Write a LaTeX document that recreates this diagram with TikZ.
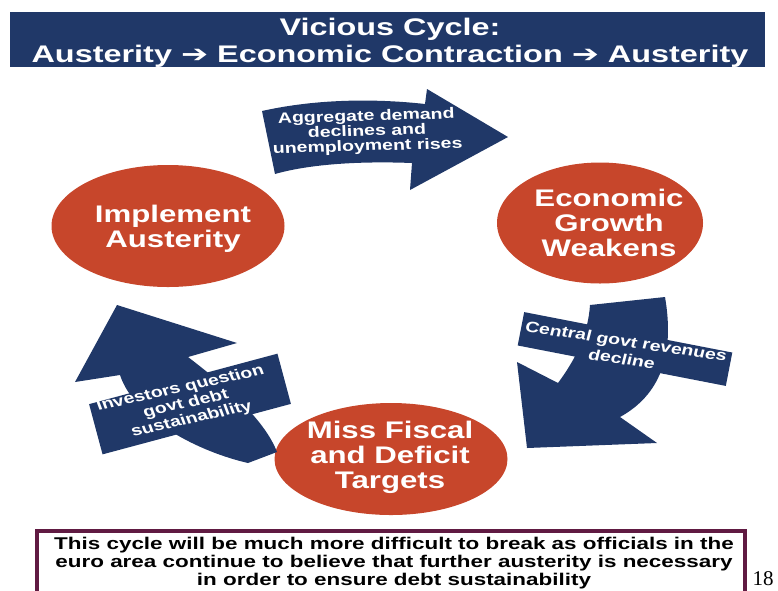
\documentclass[tikz,border=0pt]{standalone}
\usepackage{fontspec}
\setmainfont{Liberation Sans}
\newfontfamily\arrowfont{DejaVu Sans}
\newfontfamily\seriffont{Liberation Serif}
\usetikzlibrary{shapes.geometric}
\definecolor{navy}{RGB}{32,56,104}
\definecolor{ered}{RGB}{199,70,43}
\definecolor{boxmaroon}{RGB}{96,26,66}
\tikzset{
  blob/.style={ellipse, fill=ered, draw=none, inner sep=0pt},
  blobtext/.style={text=white, font=\bfseries\fontsize{24}{25}\selectfont, align=center, xscale=1.3, inner sep=0pt},
  band/.style={rectangle, fill=navy, draw=none, inner sep=0pt},
  bandtext/.style={text=white, font=\bfseries\fontsize{15}{15}\selectfont, align=center, xscale=1.3, inner sep=0pt},
  titletext/.style={text=white, font=\bfseries\fontsize{24}{27}\selectfont, xscale=1.35, inner sep=0pt, anchor=base},
  notetext/.style={text=black, font=\bfseries\fontsize{17}{18}\selectfont, xscale=1.32, inner sep=0pt, anchor=base},
  arrowbody/.style={fill=navy, draw=none}
}
\begin{document}
\begin{tikzpicture}[x=1pt, y=-1pt]
\useasboundingbox (0,0) rectangle (778,590);
% title banner
\fill[navy] (10,12) rectangle (765,67);
\node[titletext] (t1) at (390,35) {Vicious Cycle:};
\node[titletext] (t2) at (390,62) {Austerity {\arrowfont\bfseries ➔} Economic Contraction {\arrowfont\bfseries ➔} Austerity};
% ellipses
\node[blob, minimum width=233pt, minimum height=122pt] (impl) at (168,226) {};
\node[blobtext] (impltxt) at (173,229) {Implement\\Austerity};
\node[blob, minimum width=206pt, minimum height=121pt] (econ) at (600,223) {};
\node[blobtext] (econtxt) at (609,223) {Economic\\Growth\\Weakens};
\node[blob, minimum width=233pt, minimum height=112pt] (miss) at (391,459) {};
\node[blobtext] (misstxt) at (390,457) {Miss Fiscal\\and Deficit\\Targets};
% top arrow
\fill[arrowbody] (262,111) .. controls (320,98) and (380,99) .. (425,104) -- (427,89) -- (508,137) -- (410,190) -- (412,163) .. controls (360,161) and (310,164) .. (275,174) -- cycle;
\node[bandtext, rotate=2] (toptxt) at (367,132) {Aggregate demand\\declines and\\unemployment rises};
% right arrow
\fill[arrowbody] (590,305) -- (665,297) .. controls (675,355) and (660,395) .. (620,417) -- (657,443) -- (527,448) -- (517,362) -- (558,383) .. controls (575,360) and (588,335) .. cycle;
\node[band, rotate=-11, minimum width=212pt, minimum height=34pt] (rband) at (625,349) {};
\node[bandtext, rotate=-11] (rtxt) at (624,350) {Central govt revenues\\[3pt]decline};
% left arrow
\fill[arrowbody] (117,305) -- (237,343) -- (188,357) .. controls (222,383) and (264,418) .. (277,452) -- (248,463) .. controls (200,452) and (135,420) .. (120,375) -- (75,382) -- cycle;
\node[band, rotate=15, minimum width=195pt, minimum height=52pt] (lband) at (190,404) {};
\node[bandtext, rotate=16] (ltxt) at (186,404) {Investors question\\[1pt]govt debt\\[1pt]sustainability};
% bottom note
\draw[boxmaroon, line width=4pt, fill=white] (37,531) rectangle (745,600);
\node[notetext] (n1) at (394,549) {This cycle will be much more difficult to break as officials in the};
\node[notetext] (n2) at (394,567) {euro area continue to believe that further austerity is necessary};
\node[notetext] (n3) at (394,585) {in order to ensure debt sustainability};
\node[font=\seriffont\fontsize{21}{21}\selectfont, anchor=base, inner sep=0pt] (pg) at (763,585) {18};
\end{tikzpicture}
\end{document}
